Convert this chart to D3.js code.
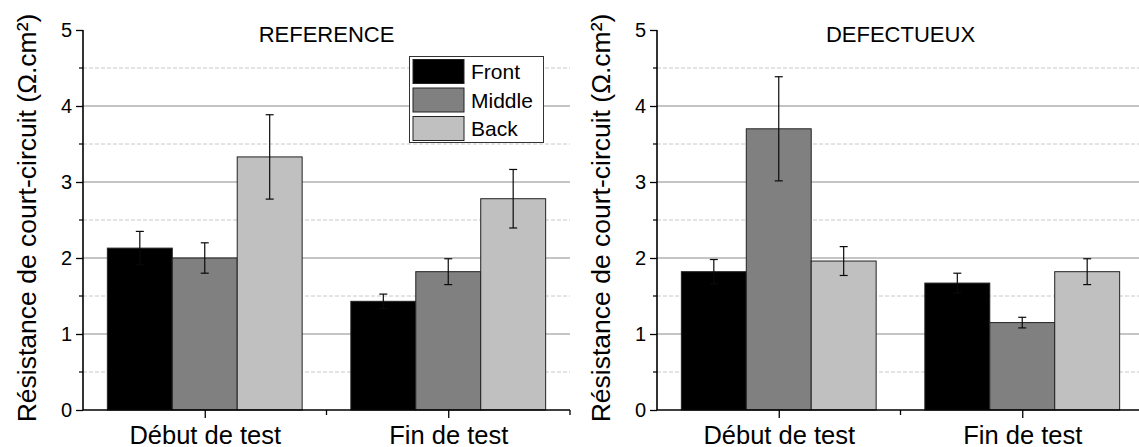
<!DOCTYPE html>
<html>
<head>
<meta charset="utf-8">
<script src="https://cdn.jsdelivr.net/npm/d3@7"></script>
<style>
  html, body { margin: 0; padding: 0; background: #fff; }
  svg { display: block; font-family: "Liberation Sans", Arial, sans-serif; }
</style>
</head>
<body>
<svg id="chart" width="1139" height="447"></svg>
<script>
// ---- data ----
const categories = ["Début de test", "Fin de test"];
const seriesNames = ["Front", "Middle", "Back"];
const seriesColors = ["#000000", "#808080", "#c0c0c0"];
const yTicks = [0, 1, 2, 3, 4, 5];
const yMinorTicks = [0.5, 1.5, 2.5, 3.5, 4.5];
const yTitle = "Résistance de court-circuit (Ω.cm²)";

const refTitle = "REFERENCE";
const refFront = [2.13, 1.43];
const refMiddle = [2.00, 1.82];
const refBack = [3.33, 2.78];
const refFrontErr = [0.22, 0.095];
const refMiddleErr = [0.20, 0.17];
const refBackErr = [0.555, 0.385];

const defTitle = "DEFECTUEUX";
const defFront = [1.82, 1.67];
const defMiddle = [3.70, 1.15];
const defBack = [1.96, 1.82];
const defFrontErr = [0.16, 0.13];
const defMiddleErr = [0.685, 0.07];
const defBackErr = [0.19, 0.17];

const svg = d3.select("#chart");

function drawPanel(opt) {
  const g = svg.append("g");
  const x = d3.scaleLinear().domain([0.5, 2.5]).range([opt.x0, opt.x1]);
  const y = d3.scaleLinear().domain([0, 5]).range([410, 30]);
  const step = x(2) - x(1);
  const groupW = step * 0.8;
  const barW = groupW / 3;

  // minor grid (dashed)
  g.append("g").selectAll("line").data(yMinorTicks).join("line")
    .attr("x1", opt.x0).attr("x2", opt.x1)
    .attr("y1", d => y(d)).attr("y2", d => y(d))
    .attr("stroke", "#c8c8c8").attr("stroke-width", 1)
    .attr("stroke-dasharray", "4,2");
  // major grid
  g.append("g").selectAll("line").data(yTicks.filter(d => d > 0 && d < 5)).join("line")
    .attr("x1", opt.x0).attr("x2", opt.x1)
    .attr("y1", d => y(d)).attr("y2", d => y(d))
    .attr("stroke", "#8a8a8a").attr("stroke-width", 1);

  const series = [
    {name: seriesNames[0], vals: opt.front, errs: opt.frontErr, color: seriesColors[0]},
    {name: seriesNames[1], vals: opt.middle, errs: opt.middleErr, color: seriesColors[1]},
    {name: seriesNames[2], vals: opt.back, errs: opt.backErr, color: seriesColors[2]}
  ];
  const items = [];
  series.forEach((s, si) => {
    categories.forEach((c, ci) => {
      const cx = x(ci + 1) - groupW / 2 + barW * si;
      items.push({v: s.vals[ci], e: s.errs[ci], color: s.color, left: cx, mid: cx + barW / 2});
    });
  });

  g.append("g").selectAll("rect").data(items).join("rect")
    .attr("x", d => d.left).attr("width", barW)
    .attr("y", d => y(d.v)).attr("height", d => y(0) - y(d.v))
    .attr("fill", d => d.color).attr("stroke", "#222").attr("stroke-width", 1);

  const eb = g.append("g").attr("stroke", "#0a0a0a").attr("stroke-width", 1.2).attr("fill", "none");
  items.forEach(d => {
    eb.append("line").attr("x1", d.mid).attr("x2", d.mid).attr("y1", y(d.v + d.e)).attr("y2", y(d.v - d.e));
    eb.append("line").attr("x1", d.mid - 4).attr("x2", d.mid + 4).attr("y1", y(d.v + d.e)).attr("y2", y(d.v + d.e));
    eb.append("line").attr("x1", d.mid - 4).attr("x2", d.mid + 4).attr("y1", y(d.v - d.e)).attr("y2", y(d.v - d.e));
  });

  // y axis
  const ya = g.append("g").attr("transform", `translate(${opt.x0},0)`);
  ya.call(d3.axisLeft(y).tickValues(yTicks).tickSize(7).tickPadding(4).tickFormat(d3.format("d")));
  ya.select(".domain").attr("stroke", "#000").attr("stroke-width", 1.6).attr("d", `M0,${y(0)}V${y(5)}`);
  ya.selectAll(".tick line").attr("stroke", "#000").attr("stroke-width", 1.3);
  ya.selectAll(".tick text").attr("font-size", 20).attr("fill", "#000")
    .attr("font-family", "Liberation Sans, Arial, sans-serif");
  ya.selectAll(".minor").data(yMinorTicks).join("line").attr("class", "minor")
    .attr("x1", -4).attr("x2", 0).attr("y1", d => y(d)).attr("y2", d => y(d))
    .attr("stroke", "#000").attr("stroke-width", 1.2);

  // x axis
  const xa = g.append("g").attr("transform", `translate(0,${y(0)})`);
  xa.call(d3.axisBottom(x).tickValues([1, 2]).tickSize(8).tickPadding(8).tickFormat(d => categories[d - 1]));
  xa.select(".domain").attr("stroke", "#000").attr("stroke-width", 1.6).attr("d", `M${opt.x0},0H${opt.x1}`);
  xa.selectAll(".tick line").attr("stroke", "#000").attr("stroke-width", 1.3);
  xa.selectAll(".tick text").attr("font-size", 25.5).attr("fill", "#000")
    .attr("font-family", "Liberation Sans, Arial, sans-serif");
  xa.selectAll(".minor").data([1.5, 2.5]).join("line").attr("class", "minor")
    .attr("x1", d => x(d)).attr("x2", d => x(d)).attr("y1", 0).attr("y2", 5)
    .attr("stroke", "#000").attr("stroke-width", 1.3);

  // panel title
  g.append("text").attr("x", (opt.x0 + opt.x1) / 2).attr("y", 42)
    .attr("text-anchor", "middle").attr("font-size", 22).attr("fill", "#000")
    .text(opt.title);

  // y title
  g.append("text")
    .attr("transform", `translate(${opt.x0 - 47},218) rotate(-90)`)
    .attr("text-anchor", "middle").attr("font-size", 26.5).attr("fill", "#000")
    .text(yTitle);

  return {x, y};
}

drawPanel({x0: 83, x1: 570, title: refTitle,
  front: refFront, middle: refMiddle, back: refBack,
  frontErr: refFrontErr, middleErr: refMiddleErr, backErr: refBackErr});
drawPanel({x0: 657, x1: 1144, title: defTitle,
  front: defFront, middle: defMiddle, back: defBack,
  frontErr: defFrontErr, middleErr: defMiddleErr, backErr: defBackErr});

// legend (in left panel)
const lg = svg.append("g");
lg.append("rect").attr("x", 409.5).attr("y", 56.5).attr("width", 134).attr("height", 86)
  .attr("fill", "#fff").attr("stroke", "#333").attr("stroke-width", 1);
seriesNames.forEach((n, i) => {
  const top = 59.5 + i * 28.5;
  lg.append("rect").attr("x", 413).attr("y", top).attr("width", 51).attr("height", 24)
    .attr("fill", seriesColors[i]).attr("stroke", "#222").attr("stroke-width", 1);
  lg.append("text").attr("x", 471).attr("y", top + 12).attr("dy", "0.36em")
    .attr("font-size", 21).attr("fill", "#000").text(n);
});
</script>
</body>
</html>
